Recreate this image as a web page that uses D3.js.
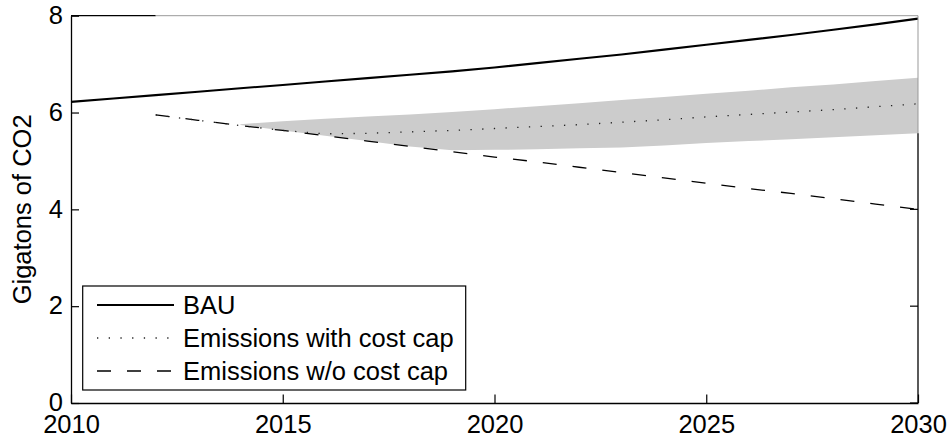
<!DOCTYPE html>
<html>
<head>
<meta charset="utf-8">
<script src="https://cdn.jsdelivr.net/npm/d3@7"></script>
<style>
  html, body { margin: 0; padding: 0; background: #fff; }
  svg { display: block; font-family: "Liberation Sans", Arial, Helvetica, sans-serif; }
</style>
</head>
<body>
<svg id="chart" width="950" height="441"></svg>
<script>
// Emission pathways, gigatons of CO2 per year
const years = d3.range(2010, 2031);
const bau = [6.22, 6.29, 6.36, 6.43, 6.50, 6.57, 6.64, 6.71, 6.78, 6.85, 6.93,
             7.02, 7.11, 7.20, 7.30, 7.40, 7.50, 7.60, 7.71, 7.82, 7.94];

const capYears = d3.range(2012, 2031);
const withCap = [5.95, 5.84, 5.73, 5.63, 5.56, 5.57, 5.60, 5.63, 5.67, 5.71,
                 5.75, 5.80, 5.85, 5.91, 5.96, 6.01, 6.06, 6.12, 6.18];
const withoutCap = [5.95, 5.84, 5.73, 5.63, 5.52, 5.41, 5.30, 5.19, 5.08, 4.98,
                    4.87, 4.76, 4.65, 4.54, 4.43, 4.33, 4.22, 4.11, 4.00];

// Uncertainty band around the cost-cap pathway
const bandYears = d3.range(2014, 2031);
const bandHigh = [5.76, 5.82, 5.87, 5.92, 5.96, 6.01, 6.07, 6.13, 6.19, 6.26,
                  6.32, 6.39, 6.45, 6.52, 6.58, 6.65, 6.72];
const bandLow = [5.74, 5.63, 5.52, 5.41, 5.30, 5.22, 5.23, 5.24, 5.26, 5.28,
                 5.32, 5.37, 5.41, 5.45, 5.49, 5.53, 5.57];

const xTicks = [2010, 2015, 2020, 2025, 2030];
const yTicks = [0, 2, 4, 6, 8];
const legendLabels = ["BAU", "Emissions with cost cap", "Emissions w/o cost cap"];

const svg = d3.select("#chart");
const plotLeft = 71, plotRight = 918, plotTop = 15.7, plotBottom = 403;
const FONT = 25.5;

const x = d3.scaleLinear().domain([2010, 2030]).range([plotLeft, plotRight]);
const y = d3.scaleLinear().domain([0, 8]).range([plotBottom, plotTop]);

// Band
const area = d3.area()
  .x((d, i) => x(bandYears[i]))
  .y0((d, i) => y(bandLow[i]))
  .y1((d, i) => y(bandHigh[i]));
svg.append("path")
  .datum(bandYears)
  .attr("d", area)
  .attr("fill", "#cccccc")
  .attr("stroke", "none");

// Line styles
const styles = {
  bau:   { stroke: "#000", width: 2.1, dash: null },
  cap:   { stroke: "#222", width: 1.3, dash: "1.3,10.4" },
  nocap: { stroke: "#000", width: 1.3, dash: "14,16" }
};

function drawLine(xs, ys, st) {
  const line = d3.line().x((d, i) => x(xs[i])).y((d, i) => y(ys[i]));
  svg.append("path")
    .datum(xs)
    .attr("d", line)
    .attr("fill", "none")
    .attr("stroke", st.stroke)
    .attr("stroke-width", st.width)
    .attr("stroke-dasharray", st.dash);
}
drawLine(years, bau, styles.bau);
drawLine(capYears, withoutCap, styles.nocap);
drawLine(capYears, withCap, styles.cap);

// Axes (ticks point inward)
const xAxis = d3.axisBottom(x).tickValues(xTicks).tickFormat(d3.format("d"))
  .tickSizeInner(-8.5).tickSizeOuter(0).tickPadding(12);
const gx = svg.append("g").attr("transform", `translate(0,${plotBottom})`).call(xAxis);

const yAxis = d3.axisLeft(y).tickValues(yTicks).tickFormat(d3.format("d"))
  .tickSizeInner(-8).tickSizeOuter(0).tickPadding(8);
const gy = svg.append("g").attr("transform", `translate(${plotLeft},0)`).call(yAxis);

[gx, gy].forEach(g => {
  g.selectAll(".domain").attr("stroke", "#000").attr("stroke-width", 1.3);
  g.selectAll(".tick line").attr("stroke", "#000").attr("stroke-width", 1.2);
  g.selectAll(".tick text").attr("fill", "#000")
    .style("font-size", FONT + "px").style("font-family", "Liberation Sans, Arial, sans-serif");
});
gy.selectAll(".tick text").attr("dy", "0.3em");

// Right-hand ticks below the band
svg.append("g").selectAll("line")
  .data(yTicks.filter(v => v < bandLow[bandLow.length - 1]))
  .join("line")
  .attr("x1", plotRight).attr("x2", plotRight - 8)
  .attr("y1", d => y(d)).attr("y2", d => y(d))
  .attr("stroke", "#000").attr("stroke-width", 1.2);

// Box edges: top and right
const bandFoot = y(bandLow[bandLow.length - 1]);
svg.append("line")
  .attr("x1", x(2010)).attr("x2", x(2012)).attr("y1", plotTop).attr("y2", plotTop)
  .attr("stroke", "#000").attr("stroke-width", 1.3);
svg.append("line")
  .attr("x1", x(2012)).attr("x2", plotRight).attr("y1", plotTop).attr("y2", plotTop)
  .attr("stroke", "#999").attr("stroke-width", 1);
svg.append("line")
  .attr("x1", plotRight).attr("x2", plotRight).attr("y1", plotTop).attr("y2", bandFoot)
  .attr("stroke", "#999").attr("stroke-width", 1);
svg.append("line")
  .attr("x1", plotRight).attr("x2", plotRight).attr("y1", bandFoot).attr("y2", plotBottom)
  .attr("stroke", "#000").attr("stroke-width", 1.3);

// Y label
svg.append("text")
  .attr("transform", `translate(31,${(plotTop + plotBottom) / 2}) rotate(-90)`)
  .attr("text-anchor", "middle")
  .style("font-size", FONT + "px")
  .attr("fill", "#000")
  .text("Gigatons of CO2");

// Legend
const legend = svg.append("g");
legend.append("rect")
  .attr("x", 82.7).attr("y", 286).attr("width", 383).attr("height", 104)
  .attr("fill", "#fff").attr("stroke", "#000").attr("stroke-width", 1.2);
const legendStyles = [styles.bau, styles.cap, styles.nocap];
const rowY = d3.scalePoint().domain(legendLabels).range([305, 371]);
legendLabels.forEach((lab, i) => {
  const st = legendStyles[i];
  legend.append("line")
    .attr("x1", 97).attr("x2", 174)
    .attr("y1", rowY(lab)).attr("y2", rowY(lab))
    .attr("stroke", st.stroke).attr("stroke-width", st.width)
    .attr("stroke-dasharray", st.dash);
  legend.append("text")
    .attr("x", 183).attr("y", rowY(lab)).attr("dy", "0.36em")
    .style("font-size", FONT + "px")
    .attr("fill", "#000")
    .text(lab);
});
</script>
</body>
</html>
